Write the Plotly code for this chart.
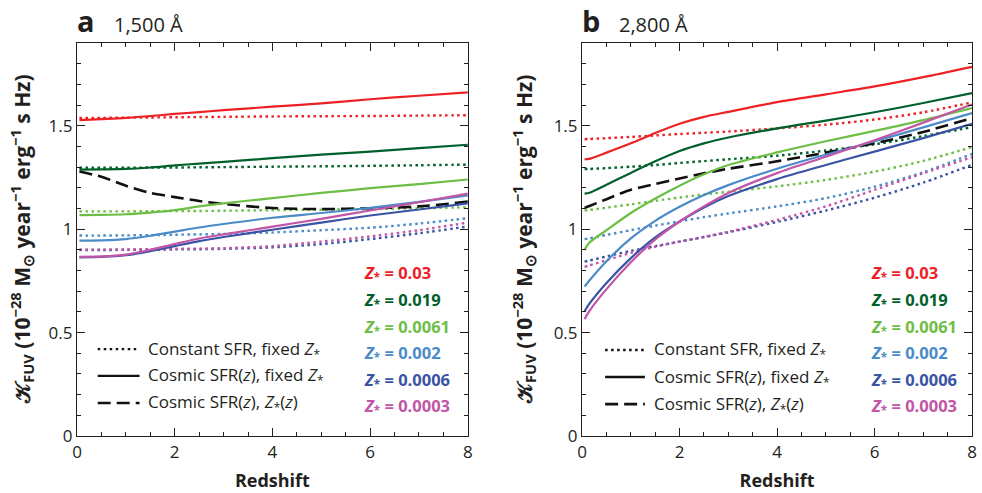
import plotly.graph_objects as go

# ---------------- data ----------------
redshift_a = [0.05, 0.5, 1, 1.5, 2, 2.5, 3, 4, 5, 6, 7, 8]
redshift_b = [0.05, 0.15, 0.5, 1, 1.5, 2, 2.5, 3, 4, 5, 6, 7, 8]

metallicities = ["0.03", "0.019", "0.0061", "0.002", "0.0006", "0.0003"]
colors = ["#ED2024", "#00602B", "#6DBE45", "#4B8BC8", "#3A53A4", "#C255A6"]

# Panel a: 1,500 A  -- cosmic SFR(z), fixed Z (solid)
a_cosmic_003 = [1.527, 1.532, 1.538, 1.547, 1.557, 1.566, 1.575, 1.592, 1.608, 1.628, 1.645, 1.661]
a_cosmic_0019 = [1.288, 1.289, 1.291, 1.298, 1.308, 1.317, 1.325, 1.343, 1.360, 1.375, 1.392, 1.408]
a_cosmic_00061 = [1.068, 1.069, 1.072, 1.080, 1.092, 1.110, 1.125, 1.150, 1.175, 1.198, 1.218, 1.240]
a_cosmic_0002 = [0.945, 0.946, 0.952, 0.968, 0.988, 1.008, 1.025, 1.055, 1.078, 1.103, 1.132, 1.163]
a_cosmic_00006 = [0.864, 0.866, 0.874, 0.893, 0.918, 0.942, 0.962, 0.997, 1.032, 1.066, 1.095, 1.125]
a_cosmic_00003 = [0.866, 0.868, 0.877, 0.900, 0.928, 0.955, 0.975, 1.012, 1.050, 1.090, 1.130, 1.172]
# Panel a: constant SFR, fixed Z (dotted)
a_const_003 = [1.538, 1.538, 1.539, 1.540, 1.541, 1.542, 1.543, 1.545, 1.546, 1.547, 1.549, 1.551]
a_const_0019 = [1.297, 1.297, 1.297, 1.298, 1.298, 1.299, 1.300, 1.302, 1.304, 1.306, 1.309, 1.312]
a_const_00061 = [1.086, 1.086, 1.086, 1.087, 1.088, 1.088, 1.089, 1.092, 1.094, 1.097, 1.101, 1.106]
a_const_0002 = [0.969, 0.969, 0.970, 0.971, 0.973, 0.975, 0.977, 0.984, 0.995, 1.007, 1.027, 1.053]
a_const_00006 = [0.899, 0.899, 0.900, 0.901, 0.902, 0.903, 0.905, 0.912, 0.928, 0.952, 0.980, 1.013]
a_const_00003 = [0.901, 0.901, 0.902, 0.903, 0.905, 0.906, 0.908, 0.918, 0.940, 0.965, 0.995, 1.032]
# Panel a: cosmic SFR(z), Z(z) (dashed)
a_evolving = [1.279, 1.253, 1.210, 1.175, 1.155, 1.136, 1.122, 1.102, 1.097, 1.101, 1.110, 1.133]

# Panel b: 2,800 A -- cosmic SFR(z), fixed Z (solid)
b_cosmic_003 = [1.338, 1.340, 1.370, 1.415, 1.465, 1.510, 1.543, 1.567, 1.614, 1.652, 1.690, 1.735, 1.785]
b_cosmic_0019 = [1.172, 1.176, 1.215, 1.272, 1.328, 1.378, 1.415, 1.443, 1.487, 1.525, 1.565, 1.610, 1.658]
b_cosmic_00061 = [0.900, 0.935, 0.995, 1.078, 1.148, 1.210, 1.265, 1.310, 1.371, 1.425, 1.475, 1.527, 1.585]
b_cosmic_0002 = [0.722, 0.752, 0.845, 0.955, 1.040, 1.108, 1.165, 1.213, 1.292, 1.360, 1.425, 1.492, 1.561]
b_cosmic_00006 = [0.603, 0.640, 0.740, 0.860, 0.960, 1.037, 1.105, 1.160, 1.242, 1.310, 1.375, 1.440, 1.509]
b_cosmic_00003 = [0.565, 0.605, 0.710, 0.840, 0.950, 1.037, 1.110, 1.175, 1.271, 1.350, 1.430, 1.515, 1.603]
# Panel b: constant SFR, fixed Z (dotted)
b_const_003 = [1.435, 1.436, 1.440, 1.446, 1.453, 1.460, 1.466, 1.472, 1.487, 1.505, 1.530, 1.565, 1.613]
b_const_0019 = [1.290, 1.291, 1.295, 1.302, 1.310, 1.320, 1.329, 1.338, 1.355, 1.380, 1.410, 1.450, 1.493]
b_const_00061 = [1.090, 1.093, 1.104, 1.120, 1.137, 1.153, 1.168, 1.181, 1.207, 1.238, 1.278, 1.330, 1.397]
b_const_0002 = [0.952, 0.956, 0.972, 0.995, 1.017, 1.038, 1.058, 1.076, 1.110, 1.150, 1.205, 1.275, 1.364]
b_const_00006 = [0.843, 0.848, 0.868, 0.895, 0.918, 0.940, 0.962, 0.985, 1.035, 1.090, 1.152, 1.225, 1.311]
b_const_00003 = [0.818, 0.825, 0.850, 0.885, 0.915, 0.940, 0.962, 0.987, 1.045, 1.110, 1.190, 1.270, 1.348]
# Panel b: cosmic SFR(z), Z(z) (dashed)
b_evolving = [1.103, 1.112, 1.145, 1.190, 1.218, 1.245, 1.270, 1.292, 1.328, 1.370, 1.415, 1.470, 1.537]

y_ticks = [0, 0.5, 1, 1.5]
y_tick_labels = ["0", "0.5", "1", "1.5"]
x_ticks = [0, 2, 4, 6, 8]
x_tick_labels = ["0", "2", "4", "6", "8"]

legend_labels = [
    "Constant SFR, fixed <i>Z</i><sub>*</sub>",
    "Cosmic SFR(<i>z</i>), fixed <i>Z</i><sub>*</sub>",
    "Cosmic SFR(<i>z</i>), <i>Z</i><sub>*</sub>(<i>z</i>)",
]

# ---------------- figure ----------------
FONT = "Open Sans"
INK = "#231F20"
DOT = "2.5px,3.5px"
DASH = "13px,6px"

fig = go.Figure()

panels = [
    ("x", "y", redshift_a,
     [a_const_003, a_const_0019, a_const_00061, a_const_0002, a_const_00006, a_const_00003],
     [a_cosmic_003, a_cosmic_0019, a_cosmic_00061, a_cosmic_0002, a_cosmic_00006, a_cosmic_00003],
     a_evolving),
    ("x2", "y2", redshift_b,
     [b_const_003, b_const_0019, b_const_00061, b_const_0002, b_const_00006, b_const_00003],
     [b_cosmic_003, b_cosmic_0019, b_cosmic_00061, b_cosmic_0002, b_cosmic_00006, b_cosmic_00003],
     b_evolving),
]

for xa, ya, xs, consts, cosmics, evol in panels:
    for vals, col in zip(consts, colors):
        fig.add_trace(go.Scatter(x=xs, y=vals, xaxis=xa, yaxis=ya, mode="lines",
                                 line=dict(color=col, width=2.4, dash=DOT, shape="spline", smoothing=0.8),
                                 showlegend=False, hoverinfo="skip"))
    fig.add_trace(go.Scatter(x=xs, y=evol, xaxis=xa, yaxis=ya, mode="lines",
                             line=dict(color="#111111", width=2.6, dash=DASH, shape="spline", smoothing=0.8),
                             showlegend=False, hoverinfo="skip"))
    for vals, col in zip(cosmics, colors):
        fig.add_trace(go.Scatter(x=xs, y=vals, xaxis=xa, yaxis=ya, mode="lines",
                                 line=dict(color=col, width=2.2, shape="spline", smoothing=0.8),
                                 showlegend=False, hoverinfo="skip"))

axis_common = dict(
    showline=True, linecolor=INK, linewidth=1.4, mirror="ticks",
    ticks="inside", ticklen=8, tickwidth=1.2, tickcolor=INK,
    showgrid=False, zeroline=False,
    tickfont=dict(family=FONT, size=17, color=INK),
)

xtitle = dict(text="<b>Redshift</b>", font=dict(family=FONT, size=18), standoff=12)

fig.update_layout(
    width=982, height=493,
    margin=dict(l=77, r=5, t=43, b=57),
    paper_bgcolor="white", plot_bgcolor="white",
    font=dict(family=FONT, color=INK),
    xaxis=dict(domain=[0, 0.4367], range=[0, 8], tickvals=x_ticks, ticktext=x_tick_labels,
               minor=dict(ticks="inside", dtick=0.5, ticklen=4, tickwidth=1.1, tickcolor=INK),
               title=xtitle, ticklabeloverflow="allow", anchor="y", **axis_common),
    yaxis=dict(range=[0, 1.9], tickvals=y_ticks, ticktext=y_tick_labels,
               minor=dict(ticks="inside", dtick=0.1, ticklen=4, tickwidth=1.1, tickcolor=INK),
               anchor="x", **axis_common),
    xaxis2=dict(domain=[0.5644, 1], range=[0, 8], tickvals=x_ticks, ticktext=x_tick_labels,
                minor=dict(ticks="inside", dtick=0.5, ticklen=4, tickwidth=1.1, tickcolor=INK),
                title=xtitle, ticklabeloverflow="allow", anchor="y2", **axis_common),
    yaxis2=dict(range=[0, 1.9], tickvals=y_ticks, ticktext=y_tick_labels,
                minor=dict(ticks="inside", dtick=0.1, ticklen=4, tickwidth=1.1, tickcolor=INK),
                anchor="x2", **axis_common),
)

ytitle = ("<b>𝒦<sub>FUV</sub> (10<sup>−28</sup> M<sub>⊙</sub> year<sup>−1</sup> "
          "erg<sup>−1</sup> s Hz)</b>")

annotations = []
for (xref, yref, letter, wl, ytx, leg_x0, leg_x1, leg_tx, leg_rows, zx) in [
    ("x domain", "y domain", "a", "1,500 Å", 21, 0.053, 0.160, 0.176, [0.221, 0.153, 0.084], 0.728),
    ("x2 domain", "y2 domain", "b", "2,800 Å", 526, 0.059, 0.161, 0.180, [0.219, 0.150, 0.081], 0.735),
]:
    annotations.append(dict(xref=xref, yref="paper", x=0.0, y=1.0, xanchor="left", yanchor="bottom",
                            text=f"<b>{letter}</b>", showarrow=False, xshift=-2, yshift=1,
                            font=dict(family=FONT, size=29, color=INK)))
    annotations.append(dict(xref=xref, yref="paper", x=0.0, y=1.0, xanchor="left", yanchor="bottom",
                            text=wl, showarrow=False, xshift=35, yshift=3,
                            font=dict(family=FONT, size=20, color=INK)))
    annotations.append(dict(xref="paper", yref="paper", x=(ytx - 77) / 900, y=0.5,
                            xanchor="center", yanchor="middle", textangle=-90,
                            text=ytitle, showarrow=False,
                            font=dict(family=FONT, size=21, color=INK)))
    dashes = [DOT, "solid", DASH]
    widths = [2.4, 2.4, 2.6]
    for lab, yy, dsh, w in zip(legend_labels, leg_rows, dashes, widths):
        fig.add_shape(type="line", xref=xref, yref=yref, x0=leg_x0, x1=leg_x1, y0=yy, y1=yy,
                      line=dict(color="#111111", width=w, dash=dsh))
        annotations.append(dict(xref=xref, yref=yref, x=leg_tx, y=yy, xanchor="left", yanchor="middle",
                                text=lab, showarrow=False,
                                font=dict(family=FONT, size=17, color=INK)))
    zrows = [0.415, 0.346, 0.277, 0.211, 0.142, 0.076]
    for m, col, yy in zip(metallicities, colors, zrows):
        annotations.append(dict(xref=xref, yref=yref, x=zx, y=yy, xanchor="left", yanchor="middle",
                                text=f"<b><i>Z</i><sub>*</sub> = {m}</b>", showarrow=False,
                                font=dict(family=FONT, size=16.5, color=col)))

fig.update_layout(annotations=annotations)

fig.write_html("out.html", config={"displayModeBar": False},
               post_script="document.body.style.margin='0px';")
